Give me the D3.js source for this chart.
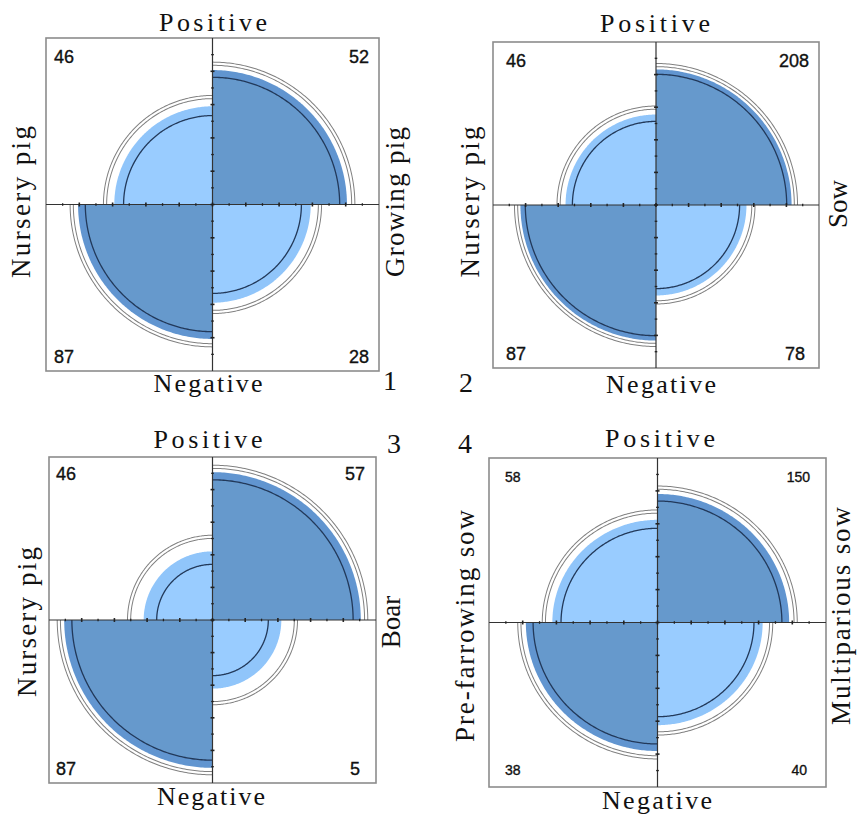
<!DOCTYPE html>
<html><head><meta charset="utf-8">
<script src="https://cdn.jsdelivr.net/npm/d3@7"></script>
<style>body{margin:0;background:#fff}svg{display:block}</style>
</head><body><svg id="c" width="857" height="816"></svg>
<script>
// ---------- data ----------
const panelIds = ["1", "2", "3", "4"];
const topLabel = "Positive";
const bottomLabel = "Negative";
const leftLabels = ["Nursery pig", "Nursery pig", "Nursery pig", "Pre-farrowing sow"];
const rightLabels = ["Growing pig", "Sow", "Boar", "Multiparious sow"];
const countsTL = [46, 46, 46, 58];
const countsTR = [52, 208, 57, 150];
const countsBL = [87, 87, 87, 38];
const countsBR = [28, 78, 5, 40];
const confLevel = 0.95;

// ---------- style / layout ----------
const lightFill = "#99CCFF", lightBand = "#90C5FA";
const darkFill = "#6699CC", darkBand = "#6195D0";
const serif = "'Liberation Serif', 'Times New Roman', serif";
const sans = "'Liberation Sans', Arial, sans-serif";

// right label: [x, y, length or null]
const layout = [
  {box:[46,38,379,371], top:[213,31,108], bottom:[208,392,109], left:[30,202,152], right:[404,202,150], num:[390,390],
   cnt:{l:54, rt:369, rb:369, t:63, b:363, fs:18}},
  {box:[493,42,819,368], top:[655,32,110], bottom:[661,393,110], left:[479,202,151], right:[847,204,null], num:[466,392],
   cnt:{l:506, rt:809, rb:805, t:67, b:360, fs:18}},
  {box:[49,457,376,783], top:[208,448,109], bottom:[211,805,108], left:[36,622,150], right:[400,622,null], num:[394,453],
   cnt:{l:56, rt:365, rb:360, t:480, b:775, fs:18}},
  {box:[489,458,826,787], top:[660,447,110], bottom:[657,809,110], left:[474,626,232], right:[850,616,218], num:[465,453],
   cnt:{l:505, rt:810, rb:807, t:482, b:775, fs:14}}
];

// inverse normal (Acklam approx) for confidence rings
function qnorm(p){
  const a=[-3.969683028665376e+01,2.209460984245205e+02,-2.759285104469687e+02,1.383577518672690e+02,-3.066479806614716e+01,2.506628277459239e+00];
  const b=[-5.447609879822406e+01,1.615858368580409e+02,-1.556989798598866e+02,6.680131188771972e+01,-1.328068155288572e+01];
  const c=[-7.784894002430293e-03,-3.223964580411365e-01,-2.400758277161838e+00,-2.549732539343734e+00,4.374664141464968e+00,2.938163982698783e+00];
  const d=[7.784695709041462e-03,3.224671290700398e-01,2.445134137142996e+00,3.754408661907416e+00];
  const pl=0.02425;
  if(p<pl){const q=Math.sqrt(-2*Math.log(p));return (((((c[0]*q+c[1])*q+c[2])*q+c[3])*q+c[4])*q+c[5])/((((d[0]*q+d[1])*q+d[2])*q+d[3])*q+1);}
  if(p>1-pl){const q=Math.sqrt(-2*Math.log(1-p));return -(((((c[0]*q+c[1])*q+c[2])*q+c[3])*q+c[4])*q+c[5])/((((d[0]*q+d[1])*q+d[2])*q+d[3])*q+1);}
  const q=p-0.5,r=q*q;return (((((a[0]*r+a[1])*r+a[2])*r+a[3])*r+a[4])*r+a[5])*q/(((((b[0]*r+b[1])*r+b[2])*r+b[3])*r+b[4])*r+1);
}
// margin-standardised radii (fourfold display)
function radii(or){ const s=Math.sqrt(or), u=s/(1+s); return {diag:Math.sqrt(u), off:Math.sqrt(1-u)}; }

const svg = d3.select("#c");
const line = d3.line();

panelIds.forEach((pid, i) => {
  const L = layout[i];
  const [x0,y0,x1,y1] = L.box;
  const xs = d3.scaleLinear().domain([-1,1]).range([x0,x1]);
  const ys = d3.scaleLinear().domain([-1,1]).range([y1,y0]);
  const g = svg.append("g");

  const a = countsTL[i], b = countsTR[i], c = countsBL[i], d = countsBR[i];
  const or = (a*d)/(b*c);
  const se = Math.sqrt(1/a+1/b+1/c+1/d);
  const z = qnorm(1-(1-confLevel)/2);
  const orLo = or*Math.exp(-z*se), orHi = or*Math.exp(z*se);
  const R = radii(or), RL = radii(orLo), RH = radii(orHi);

  const quads = [
    {a0:0,   a1:90,  diag:false}, // TR
    {a0:90,  a1:180, diag:true},  // TL
    {a0:180, a1:270, diag:false}, // BL
    {a0:270, a1:360, diag:true}   // BR
  ];
  const arcPts = (r,a0,a1) => d3.range(0,121).map(k => {
    const t = (a0 + (a1-a0)*k/120) * Math.PI/180;
    return [xs(r*Math.cos(t)), ys(r*Math.sin(t))];
  });
  const wedge = (r,a0,a1) => line([[xs(0),ys(0)], ...arcPts(r,a0,a1)]) + "Z";

  quads.forEach(q => {
    const key = q.diag ? "diag" : "off";
    const r = R[key];
    const rIn = Math.min(RL[key], RH[key]);
    const rOut = Math.max(RL[key], RH[key]);
    const dark = (or < 1) ? !q.diag : q.diag;
    g.append("path").attr("d", wedge(r,q.a0,q.a1)).attr("fill", dark?darkBand:lightBand);
    g.append("path").attr("d", wedge(rIn,q.a0,q.a1)).attr("fill", dark?darkFill:lightFill);
    g.append("path").attr("d", line(arcPts(rIn,q.a0,q.a1))).attr("fill","none")
      .attr("stroke","#22395a").attr("stroke-width",1.3);
    g.append("path").attr("d", line(arcPts(rOut,q.a0,q.a1))).attr("fill","none")
      .attr("stroke","#808080").attr("stroke-width",4.2);
    g.append("path").attr("d", line(arcPts(rOut,q.a0,q.a1))).attr("fill","none")
      .attr("stroke","#fff").attr("stroke-width",2.2);
  });

  // frame and axes
  g.append("rect").attr("x",xs(-1)).attr("y",ys(1)).attr("width",xs(1)-xs(-1)).attr("height",ys(-1)-ys(1))
    .attr("fill","none").attr("stroke","#8c8c8c").attr("stroke-width",1.6);
  g.append("line").attr("x1",xs(-1)).attr("x2",xs(1)).attr("y1",ys(0)).attr("y2",ys(0)).attr("stroke","#333").attr("stroke-width",1.2);
  g.append("line").attr("x1",xs(0)).attr("x2",xs(0)).attr("y1",ys(-1)).attr("y2",ys(1)).attr("stroke","#333").attr("stroke-width",1.2);
  const big = d3.range(-4,5).map(k => k*0.2);
  const small = d3.range(0,10).map(k => -0.9 + k*0.2);
  [[big,0.012,1.6],[small,0.008,1.3]].forEach(([arr,h,w]) => {
    arr.forEach(t => {
      g.append("line").attr("x1",xs(t)).attr("x2",xs(t)).attr("y1",ys(-h)).attr("y2",ys(h)).attr("stroke","#222").attr("stroke-width",w);
      g.append("line").attr("x1",xs(-h)).attr("x2",xs(h)).attr("y1",ys(t)).attr("y2",ys(t)).attr("stroke","#222").attr("stroke-width",w);
    });
  });

  // text
  const st = (sel, fs, len) => {
    sel.attr("font-family", serif).attr("font-size", fs).attr("fill","#111").attr("text-anchor","middle");
    if (len) sel.attr("textLength", len).attr("lengthAdjust","spacing");
    return sel;
  };
  st(g.append("text").attr("x",L.top[0]).attr("y",L.top[1]).text(topLabel), 26, L.top[2]);
  st(g.append("text").attr("x",L.bottom[0]).attr("y",L.bottom[1]).text(bottomLabel), 26, L.bottom[2]);
  st(g.append("text").attr("transform",`translate(${L.left[0]},${L.left[1]}) rotate(-90)`).text(leftLabels[i]), 27, L.left[2]);
  st(g.append("text").attr("transform",`translate(${L.right[0]},${L.right[1]}) rotate(-90)`).text(rightLabels[i]), 27, L.right[2]);
  g.append("text").attr("x",L.num[0]).attr("y",L.num[1]).attr("font-family",serif).attr("font-size",28)
    .attr("text-anchor","middle").attr("fill","#111").text(pid);

  const C = L.cnt;
  const ct = (x,y,anchor,v) => g.append("text").attr("x",x).attr("y",y).attr("text-anchor",anchor)
    .attr("font-family",sans).attr("font-size",C.fs).attr("fill","#111")
    .attr("stroke","#111").attr("stroke-width",0.35).text(v);
  ct(C.l, C.t, "start", a);
  ct(C.rt, C.t, "end", b);
  ct(C.l, C.b, "start", c);
  ct(C.rb, C.b, "end", d);
});
</script>
</body></html>
